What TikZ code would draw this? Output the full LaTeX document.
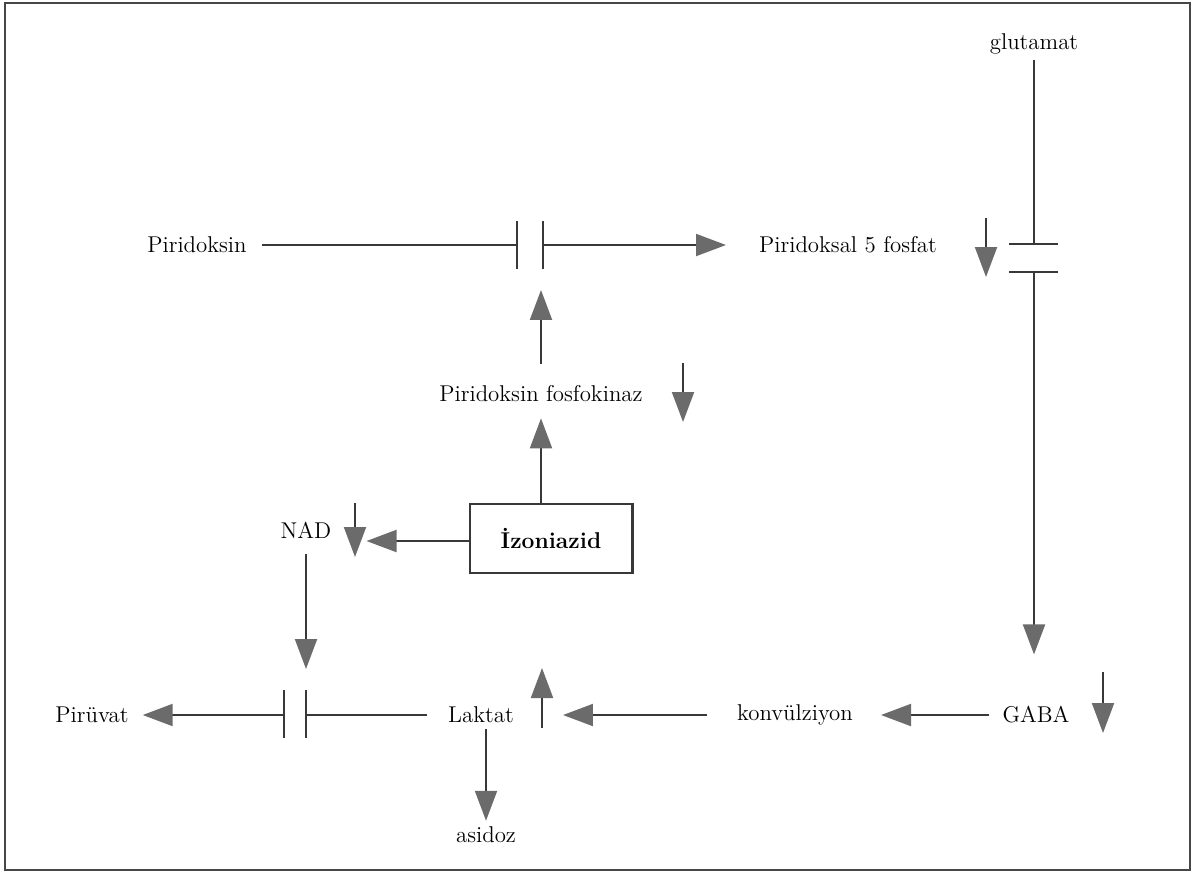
\documentclass[tikz,border=0pt]{standalone}
\usepackage{tikz}
\usetikzlibrary{positioning,arrows.meta}

\begin{document}
\begin{tikzpicture}[x=0.02cm,y=-0.02cm,
  every node/.style={font=\fontsize{13}{15}\selectfont},
  ln/.style={line width=1.15pt, draw=black!78},
  arr/.style={ln, -{Triangle[length=0.6cm,width=0.44cm,color=black!58,fill=black!58]}}]
\useasboundingbox (0,0) rectangle (1195,877);
\draw[line width=1.1pt, black!72] (5,3) rectangle (1190,870);
\node (Pir) at (197,245) {Piridoksin};
\node (P5P) at (848,245) {Piridoksal 5 fosfat};
\node (Glu) at (1034,44) {glutamat};
\node (Fk) at (541,394) {Piridoksin fosfokinaz};
\node[ln, draw, minimum width=3.26cm, minimum height=1.38cm] (Iz) at (551,538) {\textbf{İzoniazid}};
\node (Nad) at (306,530) {NAD};
\node (Pv) at (92,715) {Pirüvat};
\node (Lak) at (481,715) {Laktat};
\node (Kon) at (795,715) {konvülziyon};
\node (Gaba) at (1036,715) {GABA};
\node (Asi) at (486,835) {asidoz};
\coordinate (B1) at (517,245);
\coordinate (B2) at (543,245);
\coordinate (G1) at (1034,244);
\coordinate (G2) at (1034,272);
\coordinate (L1) at (284,715);
\coordinate (L2) at (306,715);
\draw[ln] (B1) ++(0,-24) -- ++(0,48);
\draw[ln] (B2) ++(0,-24) -- ++(0,48);
\draw[ln] (G1) ++(-25,0) -- ++(49,0);
\draw[ln] (G2) ++(-25,0) -- ++(49,0);
\draw[ln] (L1) ++(0,-25) -- ++(0,48);
\draw[ln] (L2) ++(0,-25) -- ++(0,48);
\draw[ln, shorten <=0.18cm] (Pir) -- (B1);
\draw[arr, shorten >=0.54cm] (B2) -- (P5P);
\draw[ln] (Glu) -- (G1);
\draw[arr, shorten >=0.92cm] (G2) -- (G2 |- Gaba.north);
\draw[arr, shorten <=0.32cm, shorten >=0.9cm] (Fk) -- (Fk |- B2);
\draw[arr, shorten >=0.2cm] (Iz.north -| Fk) -- (Fk);
\draw[arr, shorten >=0.58cm] ([yshift=-0.06cm]Iz.west) -- ([yshift=-0.06cm]Iz.west -| Nad.east);
\draw[arr, shorten <=0.2cm, shorten >=0.92cm] (Nad) -- (Nad |- L2);
\draw[ln, shorten <=0.3cm] (Lak) -- (L2);
\draw[arr, shorten >=0.16cm] (L1) -- (Pv);
\draw[arr, shorten <=0.48cm, shorten >=0.86cm] (Kon) -- (Lak);
\draw[arr, shorten <=0.14cm, shorten >=0.44cm] (Gaba) -- (Kon);
\draw[arr] (Lak.south -| Asi) -- (Asi);
\draw[arr] (986,218) -- ++(0,59);
\draw[arr] (683,363) -- ++(0,59);
\draw[arr] (355,503) -- ++(0,54);
\draw[arr] (1103,672) -- ++(0,61);
\draw[arr] (542,728) -- ++(0,-60);
\end{tikzpicture}
\end{document}
